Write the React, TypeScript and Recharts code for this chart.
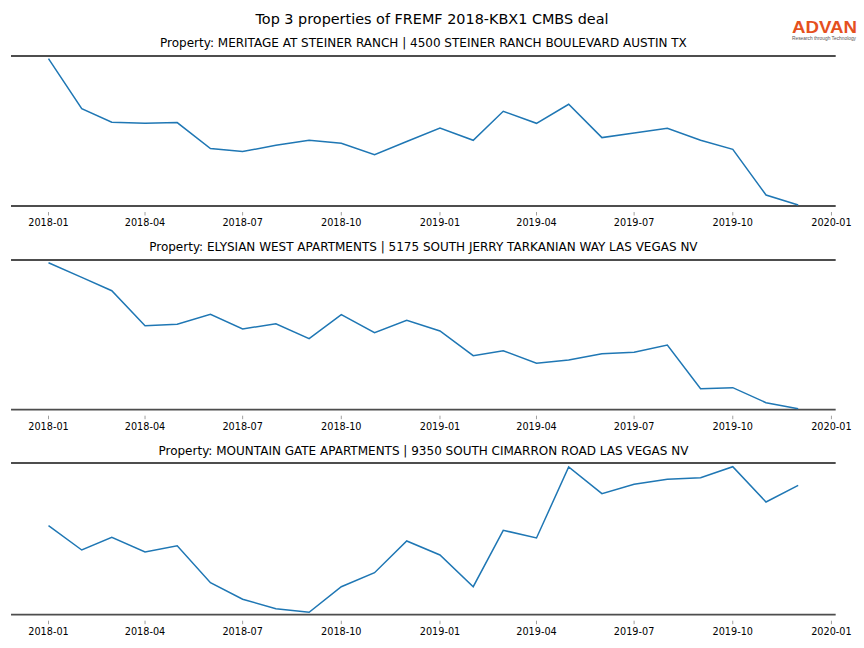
import { Line, LineChart, ReferenceLine, XAxis, YAxis } from "recharts";

const FONT = "'DejaVu Sans', sans-serif";
const BLUE = "#1f77b4";
const SPINE = "#4d4d4d";

// monthly observation dates
const MONTHS = [
  "2018-01-01", "2018-02-01", "2018-03-01", "2018-04-01", "2018-05-01", "2018-06-01",
  "2018-07-01", "2018-08-01", "2018-09-01", "2018-10-01", "2018-11-01", "2018-12-01",
  "2019-01-01", "2019-02-01", "2019-03-01", "2019-04-01", "2019-05-01", "2019-06-01",
  "2019-07-01", "2019-08-01", "2019-09-01", "2019-10-01", "2019-11-01", "2019-12-01",
];

const TICK_DATES = [
  "2018-01-01", "2018-04-01", "2018-07-01", "2018-10-01", "2019-01-01",
  "2019-04-01", "2019-07-01", "2019-10-01", "2020-01-01",
];
const TICK_LABELS = [
  "2018-01", "2018-04", "2018-07", "2018-10", "2019-01",
  "2019-04", "2019-07", "2019-10", "2020-01",
];

// values (no y scale is shown, relative units)
const MERITAGE = [
  147.4, 97.4, 83.7, 82.7, 83.4, 57.4, 54.4, 60.7, 65.7, 62.7, 51.4, 64.5,
  78, 65.7, 94.7, 82.7, 101.7, 68.4, 73, 77.7, 65.7, 56.7, 11, 1,
];
const ELYSIAN = [
  147, 132.3, 119, 84, 85.4, 95.4, 80.7, 86, 71, 95, 77, 89.4,
  78.7, 54, 59, 46.4, 49.7, 56, 57.4, 64.7, 21, 22, 7, 1,
];
const MOUNTAIN_GATE = [
  89, 64.7, 77.4, 62.7, 69, 32, 15.4, 6, 2.4, 28, 42, 73.7,
  59.7, 28, 84.4, 76.7, 147.7, 121, 130.4, 135.4, 137, 148, 112.7, 129.4,
];

const TITLE = "Top 3 properties of FREMF 2018-KBX1 CMBS deal";
const PROPERTY_TITLES = [
  "Property: MERITAGE AT STEINER RANCH | 4500 STEINER RANCH BOULEVARD AUSTIN TX",
  "Property: ELYSIAN WEST APARTMENTS | 5175 SOUTH JERRY TARKANIAN WAY LAS VEGAS NV",
  "Property: MOUNTAIN GATE APARTMENTS | 9350 SOUTH CIMARRON ROAD LAS VEGAS NV",
];

const dayOf = (s: string) => (Date.parse(s) - Date.parse("2018-01-01")) / 86400000;

const TICK_DAYS = TICK_DATES.map(dayOf);
const firstDay = dayOf(MONTHS[0]);
const lastDay = dayOf(MONTHS[MONTHS.length - 1]);
const pad = (lastDay - firstDay) * 0.05;
const X_DOMAIN = [firstDay - pad, lastDay + pad];

function DateTick(props: any) {
  const { x, y, payload } = props;
  const label = TICK_LABELS[TICK_DAYS.indexOf(payload.value)];
  return (
    <g>
      <line x1={x} x2={x} y1={y + 6} y2={y + 9.5} stroke="#888" strokeWidth={0.8} />
      <text x={x} y={y + 20} textAnchor="middle" fontSize={9.7} fontFamily={FONT} fill="#000">
        {label}
      </text>
    </g>
  );
}

function Panel({ values, top, bottom }: { values: number[]; top: number; bottom: number }) {
  const span = bottom - top;
  const data = MONTHS.map((m, i) => ({ day: dayOf(m), value: values[i] }));
  return (
    <div style={{ position: "absolute", left: 0, top: top - 10 }}>
      <LineChart width={864} height={span + 40} data={data} margin={{ top: 10, right: 28.3, bottom: 0, left: 11 }}>
        <XAxis
          dataKey="day"
          type="number"
          domain={X_DOMAIN}
          ticks={TICK_DAYS}
          interval={0}
          tick={<DateTick />}
          tickLine={false}
          axisLine={false}
          tickSize={0}
          tickMargin={0}
          height={30}
          allowDataOverflow
        />
        <YAxis hide domain={[0, span]} allowDataOverflow />
        <ReferenceLine y={span} stroke={SPINE} strokeWidth={1.8} />
        <ReferenceLine y={0} stroke={SPINE} strokeWidth={1.8} />
        <Line type="linear" dataKey="value" stroke={BLUE} strokeWidth={1.5} dot={false} isAnimationActive={false} />
      </LineChart>
    </div>
  );
}

export default function App() {
  return (
    <div style={{ position: "absolute", left: 0, top: 0, width: 864, height: 648, background: "#fff" }}>
      <Panel values={MERITAGE} top={55.7} bottom={205.7} />
      <Panel values={ELYSIAN} top={260} bottom={409.7} />
      <Panel values={MOUNTAIN_GATE} top={463} bottom={614.7} />
      <svg width={864} height={648} style={{ position: "absolute", left: 0, top: 0, pointerEvents: "none" }}>
        <text x={432} y={24.3} textAnchor="middle" fontSize={14.4} fontFamily={FONT} fill="#000">
          {TITLE}
        </text>
        {PROPERTY_TITLES.map((t, i) => (
          <text key={t} x={423.4} y={[46.5, 250.5, 454.5][i]} textAnchor="middle" fontSize={12} fontFamily={FONT} fill="#000">
            {t}
          </text>
        ))}
        <text x={792} y={33} fontSize={17} fontWeight={600} fontFamily="'Liberation Sans', Arial, sans-serif" fill="#e5501e" textLength={65} lengthAdjust="spacingAndGlyphs">
          ADVAN
        </text>
        <text x={792} y={40} fontSize={4.6} fontFamily="'Liberation Sans', Arial, sans-serif" fill="#555" textLength={64} lengthAdjust="spacingAndGlyphs">
          Research through Technology
        </text>
      </svg>
    </div>
  );
}
